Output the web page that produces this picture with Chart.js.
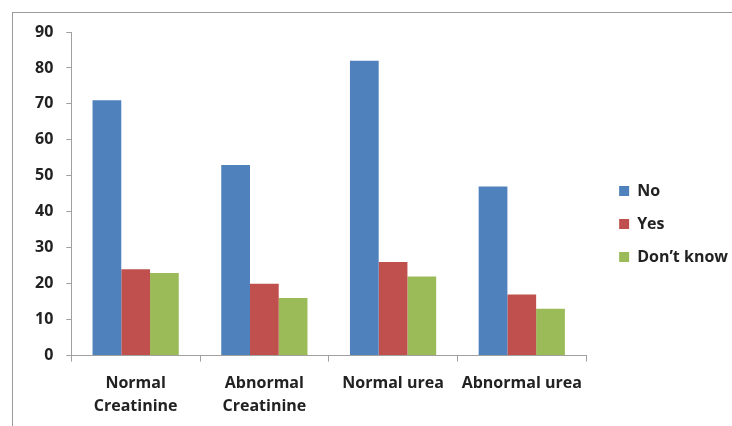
<!DOCTYPE html>
<html>
<head>
<meta charset="utf-8">
<script src="https://cdn.jsdelivr.net/npm/chart.js@4.4.1/dist/chart.umd.min.js"></script>
<style>
  html, body { margin:0; padding:0; background:#fff; }
  #wrap { position:relative; width:732px; height:426px; overflow:hidden; }
  #frame { position:absolute; left:12px; top:12px; width:740px; height:440px; border:1px solid #9a9a9a; box-sizing:border-box; }
  #c { position:absolute; left:0; top:0; }
</style>
</head>
<body>
<div id="wrap">
  <div id="frame"></div>
  <canvas id="c" width="732" height="426"></canvas>
</div>
<script>
// data
const categories = [['Normal', 'Creatinine'], ['Abnormal', 'Creatinine'], 'Normal urea', 'Abnormal urea'];
const seriesNames = ['No', 'Yes', 'Don\u2019t know'];
const noVals = [71, 53, 82, 47];
const yesVals = [24, 20, 26, 17];
const dontKnowVals = [23, 16, 22, 13];
const yTicks = [0, 10, 20, 30, 40, 50, 60, 70, 80, 90];

const colors = ['#4F81BD', '#C0504D', '#9BBB59'];
const fontFam = '"Open Sans", Lato, sans-serif';
const axisGray = '#a0a0a0';

// push the legend a bit away from the plot
const legendGap = 16;
const legendShift = {
  id: 'legendShift',
  afterLayout(chart) {
    const lg = chart.legend;
    if (lg) { lg.left += legendGap; lg.right += legendGap; }
  }
};

const ctx = document.getElementById('c').getContext('2d');
new Chart(ctx, {
  type: 'bar',
  data: {
    labels: categories,
    datasets: [noVals, yesVals, dontKnowVals].map((d, i) => ({
      label: seriesNames[i],
      data: d,
      backgroundColor: colors[i],
      borderWidth: 0,
      categoryPercentage: 0.67,
      barPercentage: 1.0
    }))
  },
  options: {
    responsive: false,
    animation: false,
    layout: { padding: { left: 22, top: 20, right: 10, bottom: -2 } },
    plugins: {
      tooltip: { enabled: false },
      legend: {
        position: 'right',
        labels: {
          boxWidth: 10, boxHeight: 10, padding: 17,
          color: '#222',
          font: { family: fontFam, size: 16, weight: 'bold' }
        }
      }
    },
    scales: {
      x: {
        grid: { display: true, drawOnChartArea: false, offset: true, tickLength: 6, color: axisGray },
        border: { display: true, color: axisGray, width: 1 },
        ticks: {
          color: '#222', padding: 10,
          maxRotation: 0, autoSkip: false,
          font: { family: fontFam, size: 16, weight: 'bold', lineHeight: 1.45 }
        }
      },
      y: {
        min: 0, max: 90,
        afterBuildTicks: s => { s.ticks = yTicks.map(v => ({ value: v })); },
        grid: { display: true, drawOnChartArea: false, tickLength: 5, color: axisGray },
        border: { display: true, color: axisGray, width: 1 },
        ticks: {
          color: '#222', padding: 13,
          font: { family: fontFam, size: 16, weight: 'bold' }
        }
      },
      gapTop: {
        type: 'linear', position: 'top', display: true,
        grid: { display: false }, border: { display: false },
        ticks: { display: false },
        afterFit: s => { s.height = 12; }
      }
    }
  },
  plugins: [legendShift]
});
</script>
</body>
</html>
